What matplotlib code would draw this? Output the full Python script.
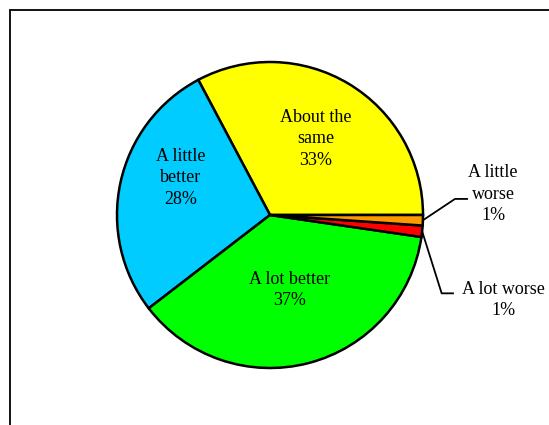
import numpy as np
import matplotlib
matplotlib.use("Agg")
import matplotlib.pyplot as plt
from matplotlib.patches import Rectangle

# Slice data (counter-clockwise from 3 o'clock)
categories = ["About the same", "A little better", "A lot better", "A lot worse", "A little worse"]
values = [32.8, 27.7, 37.3, 1.2, 1.1]
pct_labels = ["33%", "28%", "37%", "1%", "1%"]
label_text = ["About the\nsame", "A little\nbetter", "A lot better", "A lot worse", "A little\nworse"]
colors = ["#FFFF00", "#00CCFF", "#00FF00", "#FF0000", "#FF9900"]

plt.rcParams['font.family'] = ['Liberation Serif', 'DejaVu Serif']

W, H = 549, 425
fig = plt.figure(figsize=(W / 100, H / 100), dpi=100, facecolor='white')

# Pie centre (270, 215) px, radius 153 px
cx, cy, r = 270, 215, 153
ax = fig.add_axes([(cx - r) / W, (H - cy - r) / H, 2 * r / W, 2 * r / H])

wedges, _ = ax.pie(values, colors=colors, startangle=0, counterclock=True,
                   wedgeprops=dict(edgecolor='black', linewidth=1.8))
for w in wedges:
    w.set_clip_on(False)
ax.set_xlim(-1, 1)
ax.set_ylim(-1, 1)
ax.set_aspect('equal')
ax.axis('off')

# label positions (in pie radius units)
label_pos = [(0.299, 0.497), (-0.582, 0.244), (0.128, -0.490), (1.525, -0.556), (1.459, 0.137)]
for txt, pct, (x, y) in zip(label_text, pct_labels, label_pos):
    ax.text(x, y, txt + "\n" + pct, ha='center', va='center', fontsize=13,
            linespacing=1.35, clip_on=False)

# leader lines for the two small slices
elbows = {3: [(1.122, -0.512), (1.196, -0.512)], 4: [(1.209, 0.105), (1.288, 0.105)]}
for i, pts in elbows.items():
    w = wedges[i]
    mid = np.deg2rad((w.theta1 + w.theta2) / 2)
    xs = [np.cos(mid)] + [p[0] for p in pts]
    ys = [np.sin(mid)] + [p[1] for p in pts]
    ax.plot(xs, ys, color='black', linewidth=1.3, clip_on=False)

# outer border (runs off the right and bottom of the image)
fig.add_artist(Rectangle((10 / W, -0.1), 1.2, 1.1 - 10 / H, transform=fig.transFigure,
                         fill=False, edgecolor='black', linewidth=1.3))

fig.savefig("out.png", dpi=100, facecolor='white')
